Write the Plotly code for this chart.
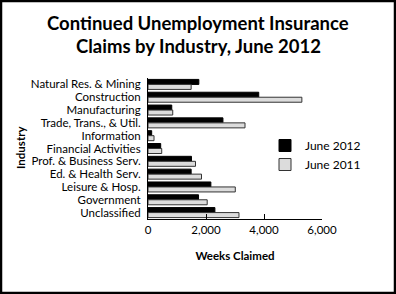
import plotly.graph_objects as go

categories = ["Natural Res. & Mining", "Construction", "Manufacturing", "Trade, Trans., & Util.",
              "Information", "Financial Activities", "Prof. & Business Serv.", "Ed. & Health Serv.",
              "Leisure & Hosp.", "Government", "Unclassified"]
june_2012 = [1753, 3818, 819, 2584, 127, 438, 1499, 1488, 2168, 1742, 2307]
june_2011 = [1488, 5306, 853, 3345, 208, 473, 1638, 1845, 3010, 2041, 3137]
tick_vals = [0, 2000, 4000, 6000]
tick_text = ["0", "2,000", "4,000", "6,000"]

W, H = 396, 294
L, R, T, B = 148, 74, 78, 75
pw, ph = W - L - R, H - T - B

def px(x):
    return (x - L) / pw

def py(y):
    return (H - B - y) / ph

FONT = "Lato"

fig = go.Figure()
fig.add_trace(go.Bar(y=categories, x=june_2012, orientation="h", name="June 2012",
                     marker=dict(color="black", line=dict(color="black", width=1))))
fig.add_trace(go.Bar(y=categories, x=june_2011, orientation="h", name="June 2011",
                     marker=dict(color="#dcdcdc", line=dict(color="#333333", width=1))))

fig.update_layout(
    width=W, height=H,
    margin=dict(l=L, r=R, t=T, b=B),
    paper_bgcolor="white", plot_bgcolor="white",
    barmode="group", bargap=0.22, bargroupgap=0.0,
    font=dict(family=FONT, color="black", size=11),
    xaxis=dict(range=[0, 6000], tickvals=tick_vals, ticktext=tick_text,
               showline=True, linecolor="black", linewidth=1, ticks="inside",
               ticklen=5, tickcolor="black", showgrid=False, zeroline=False,
               tickfont=dict(size=11.5),
               title=dict(text="<b>Weeks Claimed</b>", font=dict(size=11.5), standoff=17)),
    yaxis=dict(autorange="reversed", showline=True, linecolor="black", linewidth=1,
               tickmode="array", tickvals=categories, ticktext=categories,
               ticks="", showgrid=False, tickfont=dict(size=11.5), ticklabelstandoff=4),
    legend=dict(x=px(265), y=py(131), xanchor="left", yanchor="top",
                font=dict(size=12), bgcolor="rgba(0,0,0,0)", tracegroupgap=4,
                itemwidth=30),
    showlegend=True,
)

fig.add_annotation(text="<b>Continued Unemployment Insurance</b>", x=px(198), y=py(23),
                   xref="paper", yref="paper", xanchor="center", yanchor="middle",
                   showarrow=False, font=dict(size=18.5, family=FONT))
fig.add_annotation(text="<b>Claims by Industry, June 2012</b>", x=px(198), y=py(46),
                   xref="paper", yref="paper", xanchor="center", yanchor="middle",
                   showarrow=False, font=dict(size=18.5, family=FONT))

fig.add_annotation(text="<b>Industry</b>", textangle=-90, x=px(20), y=py(148),
                   xref="paper", yref="paper", xanchor="center", yanchor="middle",
                   showarrow=False, font=dict(size=11.5, family=FONT))

fig.add_shape(type="rect", xref="paper", yref="paper",
              x0=px(1), x1=px(395), y0=py(293), y1=py(1),
              line=dict(color="black", width=2.5), fillcolor="rgba(0,0,0,0)", layer="above")

fig.write_html("out.html")
